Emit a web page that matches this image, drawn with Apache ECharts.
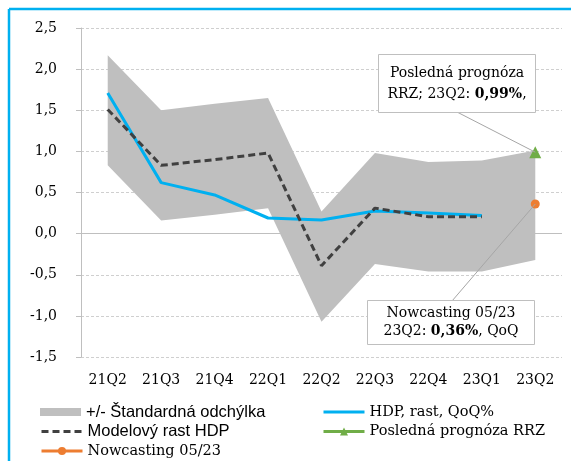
<!DOCTYPE html>
<html>
<head>
<meta charset="utf-8">
<script src="https://cdn.jsdelivr.net/npm/echarts@6/dist/echarts.min.js"></script>
<style>
  html, body { margin: 0; padding: 0; background: #fff; }
  #chart { width: 571px; height: 461px; }
</style>
</head>
<body>
<div id="chart"></div>
<script>
// data
const categories = ['21Q2', '21Q3', '21Q4', '22Q1', '22Q2', '22Q3', '22Q4', '23Q1', '23Q2'];
const hdpGrowth   = [1.71, 0.62, 0.47, 0.19, 0.165, 0.275, 0.25, 0.22, null];
const modelGrowth = [1.51, 0.83, 0.90, 0.98, -0.39, 0.31, 0.205, 0.205, null];
const stdUpper    = [2.17, 1.50, 1.58, 1.65, 0.27, 0.98, 0.87, 0.89, 1.01];
const stdLower    = [0.83, 0.16, 0.23, 0.31, -1.07, -0.37, -0.46, -0.46, -0.32];
const rrzForecast = [null, null, null, null, null, null, null, null, 0.99];
const nowcast     = [null, null, null, null, null, null, null, null, 0.36];

const serif = 'DejaVu Serif';
const sans = 'Liberation Sans';
const fmt = v => v.toFixed(2).replace('.', ',');

// band = lower edge (invisible) + width stacked on it
const bandWidth = stdUpper.map((u, i) => +(u - stdLower[i]).toFixed(3));

function legendAt(name, left, centerY, itemHeight, font, size, extra) {
  return Object.assign({
    data: [{ name: name, textStyle: { fontFamily: font, fontSize: size } }],
    left: left,
    top: centerY - 10,
    itemWidth: 41,
    itemHeight: itemHeight,
    selectedMode: false,
    padding: 0,
    lineStyle: { width: 3 },
    textStyle: { color: '#000', lineHeight: 20 }
  }, extra || {});
}

const chart = echarts.init(document.getElementById('chart'));
const option = {
  animation: false,
  backgroundColor: '#fff',
  grid: { left: 81, right: 9, top: 28, bottom: 104 },
  legend: [
    legendAt('+/- Štandardná odchýlka', 40, 412, 8, sans, 16.5, { icon: 'rect', itemStyle: { color: '#bfbfbf' } }),
    legendAt('Modelový rast HDP', 40, 431.5, 10, sans, 16.5, { itemStyle: { opacity: 0 } }),
    legendAt('Nowcasting 05/23', 40, 451, 10, serif, 14.5),
    legendAt('HDP, rast, QoQ%', 322, 412, 10, serif, 14.5, { itemStyle: { opacity: 0 } }),
    legendAt('Posledná prognóza RRZ', 322, 431.5, 10, serif, 14.5)
  ],
  xAxis: {
    type: 'category',
    data: categories,
    boundaryGap: true,
    axisLine: { show: false },
    axisTick: { show: false },
    axisLabel: { margin: 16, color: '#000', fontFamily: serif, fontSize: 14 }
  },
  yAxis: {
    type: 'value',
    min: -1.5,
    max: 2.5,
    interval: 0.5,
    axisLine: { show: true, lineStyle: { color: '#bfbfbf' } },
    axisTick: { show: true, length: 5, lineStyle: { color: '#bfbfbf' } },
    axisLabel: {
      margin: 24,
      color: '#000',
      fontFamily: serif,
      fontSize: 14,
      formatter: v => v.toFixed(1).replace('.', ',')
    },
    splitLine: { show: true, lineStyle: { color: '#cfcfcf', type: [3, 2] } }
  },
  series: [
    {
      name: 'band-base',
      type: 'line',
      data: stdLower,
      stack: 'band',
      stackStrategy: 'all',
      symbol: 'none',
      lineStyle: { width: 0, opacity: 0 },
      z: 1
    },
    {
      name: '+/- Štandardná odchýlka',
      type: 'line',
      data: bandWidth,
      stack: 'band',
      stackStrategy: 'all',
      symbol: 'none',
      color: '#bfbfbf',
      lineStyle: { width: 0, opacity: 0 },
      areaStyle: { color: '#bfbfbf', opacity: 1 },
      z: 1
    },
    {
      name: 'HDP, rast, QoQ%',
      type: 'line',
      data: hdpGrowth,
      symbol: 'none',
      color: '#00b0f0',
      lineStyle: { width: 3, color: '#00b0f0' },
      z: 3,
      markLine: {
        silent: true,
        symbol: 'none',
        label: { show: false },
        lineStyle: { color: '#bfbfbf', type: 'solid', width: 1 },
        data: [{ yAxis: 0 }],
        z: 0
      }
    },
    {
      name: 'Modelový rast HDP',
      type: 'line',
      data: modelGrowth,
      symbol: 'none',
      color: '#404040',
      lineStyle: { width: 3, color: '#404040', type: [7, 4] },
      z: 4
    },
    {
      name: 'Posledná prognóza RRZ',
      type: 'line',
      data: rrzForecast,
      symbol: 'triangle',
      symbolSize: 12,
      showAllSymbol: true,
      color: '#70ad47',
      itemStyle: { color: '#70ad47' },
      lineStyle: { width: 3, color: '#70ad47' },
      z: 5
    },
    {
      name: 'Nowcasting 05/23',
      type: 'line',
      data: nowcast,
      symbol: 'circle',
      symbolSize: 9,
      showAllSymbol: true,
      color: '#ed7d31',
      itemStyle: { color: '#ed7d31' },
      lineStyle: { width: 3, color: '#ed7d31' },
      z: 5
    }
  ]
};
chart.setOption(option);

// callouts anchored to the last-quarter points
const last = categories.length - 1;
const rrzPt = chart.convertToPixel({ gridIndex: 0 }, [last, rrzForecast[last]]);
const nowPt = chart.convertToPixel({ gridIndex: 0 }, [last, nowcast[last]]);

const boxText = { fontFamily: serif, fontSize: 14, fill: '#000', align: 'center', verticalAlign: 'middle' };
chart.setOption({
  graphic: [
    // frame
    { type: 'line', shape: { x1: 9, y1: 9, x2: 571, y2: 9 }, style: { stroke: '#00b0f0', lineWidth: 2.5 }, silent: true },
    { type: 'line', shape: { x1: 9, y1: 9, x2: 9, y2: 461 }, style: { stroke: '#00b0f0', lineWidth: 2.5 }, silent: true },
    // leader lines
    { type: 'line', shape: { x1: 457, y1: 112, x2: rrzPt[0], y2: rrzPt[1] }, style: { stroke: '#a6a6a6', lineWidth: 1 }, z: 10 },
    { type: 'line', shape: { x1: 452, y1: 301, x2: nowPt[0], y2: nowPt[1] }, style: { stroke: '#a6a6a6', lineWidth: 1 }, z: 10 },
    // RRZ box
    { type: 'rect', shape: { x: 378.5, y: 54.5, width: 157, height: 58 }, style: { fill: '#fff', stroke: '#bfbfbf', lineWidth: 1 }, z: 11 },
    {
      type: 'text', x: 457, y: 83.5, z: 12,
      style: Object.assign({}, boxText, {
        text: '{n|Posledná prognóza}\n{n|RRZ; 23Q2: }{b|' + fmt(rrzForecast[last]) + '%}{n|,}',
        rich: { n: { fontFamily: serif, fontSize: 14, lineHeight: 21 }, b: { fontFamily: serif, fontSize: 14, fontWeight: 'bold', lineHeight: 21 } }
      })
    },
    // nowcast box
    { type: 'rect', shape: { x: 367.5, y: 300.5, width: 167, height: 44 }, style: { fill: '#fff', stroke: '#bfbfbf', lineWidth: 1 }, z: 11 },
    {
      type: 'text', x: 451, y: 322.5, z: 12,
      style: Object.assign({}, boxText, {
        text: '{n|Nowcasting 05/23}\n{n|23Q2: }{b|' + fmt(nowcast[last]) + '%}{n|, QoQ}',
        rich: { n: { fontFamily: serif, fontSize: 14, lineHeight: 18 }, b: { fontFamily: serif, fontSize: 14, fontWeight: 'bold', lineHeight: 18 } }
      })
    }
  ]
});
</script>
</body>
</html>
